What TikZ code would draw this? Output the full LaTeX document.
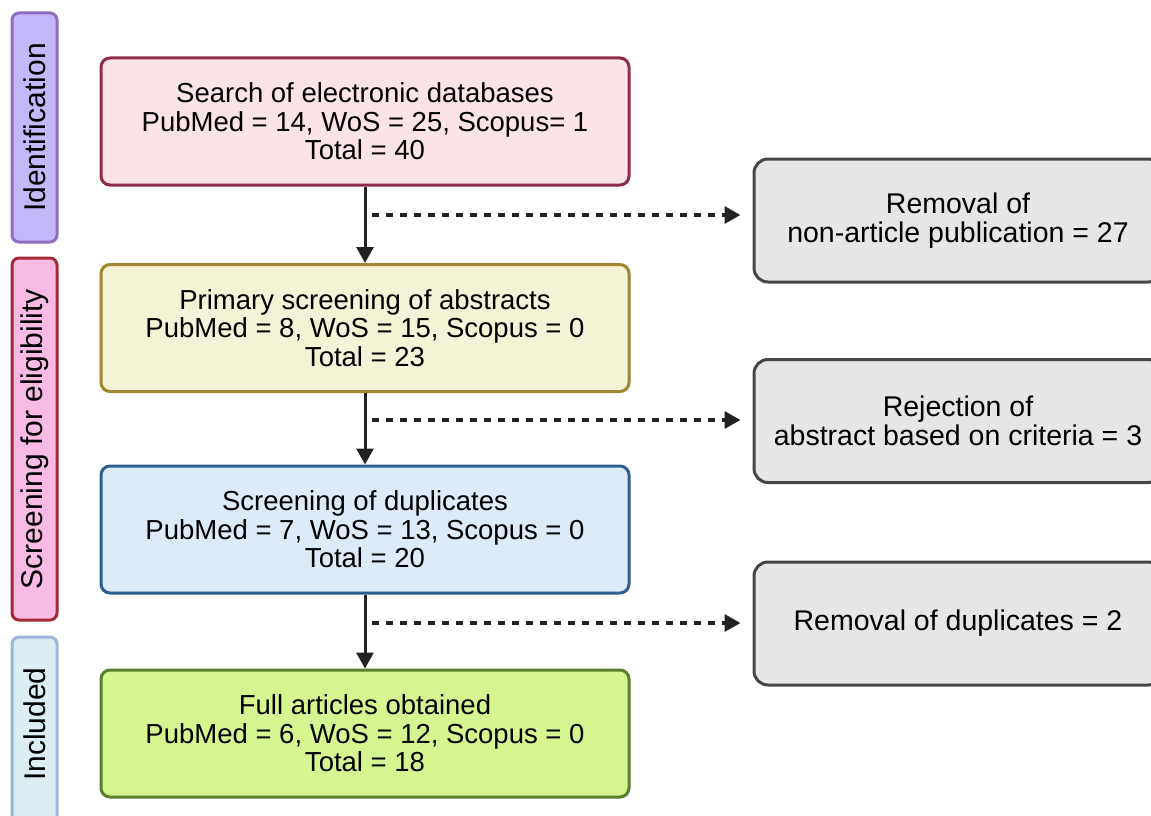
\documentclass[tikz,border=0pt]{standalone}
\usepackage{fontspec}
\setmainfont{Liberation Sans}
\usetikzlibrary{arrows.meta}
\definecolor{idfill}{HTML}{C4B8FB}
\definecolor{iddraw}{HTML}{8E6DC0}
\definecolor{scfill}{HTML}{F9BAE4}
\definecolor{scdraw}{HTML}{A3293A}
\definecolor{infill}{HTML}{DCEEF4}
\definecolor{indraw}{HTML}{9FB4DC}
\definecolor{aFill}{HTML}{FBE3E8}
\definecolor{aDraw}{HTML}{8E2D4A}
\definecolor{bFill}{HTML}{F5F3D5}
\definecolor{bDraw}{HTML}{A08430}
\definecolor{cFill}{HTML}{DDEBF8}
\definecolor{cDraw}{HTML}{2F5F8E}
\definecolor{dFill}{HTML}{D6F590}
\definecolor{dDraw}{HTML}{5A7F2F}
\definecolor{gFill}{HTML}{E6E6E6}
\definecolor{gDraw}{HTML}{464646}
\definecolor{ink}{HTML}{222222}
\tikzset{
  stagebar/.style={draw, line width=3pt, rounded corners=7pt, minimum width=45pt, inner sep=0pt},
  stagetext/.style={rotate=90, font=\fontsize{30}{32}\selectfont},
  mainbox/.style={draw, line width=3pt, rounded corners=9pt, minimum width=528pt, minimum height=127pt, align=center, inner sep=0pt, font=\fontsize{27.5}{28.5}\selectfont},
  sidebox/.style={draw=gDraw, fill=gFill, line width=3pt, rounded corners=14pt, minimum width=408pt, minimum height=123pt, align=center, inner sep=0pt, font=\fontsize{28.5}{28.5}\selectfont},
  solidarrow/.style={draw=ink, line width=3pt, -{Triangle[length=16pt,width=17pt]}},
  dasharrow/.style={draw=ink, line width=3.5pt, dash pattern=on 7pt off 7pt, -{Triangle[length=16pt,width=17pt]}, shorten >=12pt}
}
\begin{document}
\begin{tikzpicture}[x=1pt,y=-1pt]
\clip (0,0) rectangle (1151,816);
\fill[white] (0,0) rectangle (1151,816);
% stage bars
\node[stagebar, fill=idfill, draw=iddraw, minimum height=229pt] (sid) at (34.5,127.5) {};
\node[stagetext] (tid) at (sid.center) {Identification};
\node[stagebar, fill=scfill, draw=scdraw, minimum height=362pt] (ssc) at (34.5,439) {};
\node[stagetext] (tsc) at (ssc.center) {Screening for eligibility};
\node[stagebar, fill=infill, draw=indraw, minimum height=190pt] (sin) at (34.5,732) {};
\node[stagetext] (tin) at (34.5,724) {Included};
% main boxes
\node[mainbox, fill=aFill, draw=aDraw] (b1) at (365,121.5) {Search of electronic databases\\PubMed = 14, WoS = 25, Scopus= 1\\Total = 40};
\node[mainbox, fill=bFill, draw=bDraw] (b2) at (365,328) {Primary screening of abstracts\\PubMed = 8, WoS = 15, Scopus = 0\\Total = 23};
\node[mainbox, fill=cFill, draw=cDraw] (b3) at (365,529.5) {Screening of duplicates\\PubMed = 7, WoS = 13, Scopus = 0\\Total = 20};
\node[mainbox, fill=dFill, draw=dDraw] (b4) at (365,733.5) {Full articles obtained\\PubMed = 6, WoS = 12, Scopus = 0\\Total = 18};
% side boxes
\node[sidebox] (r1) at (958,220.5) {Removal of\\non-article publication = 27};
\node[sidebox] (r2) at (958,421) {Rejection of\\abstract based on criteria = 3};
\node[sidebox] (r3) at (958,623.5) {Removal of duplicates = 2};
% vertical arrows
\draw[solidarrow] (b1) -- (b2);
\draw[solidarrow] (b2) -- (b3);
\draw[solidarrow] (b3) -- (b4);
% dashed arrows
\coordinate (d1) at (372,215);
\coordinate (d2) at (372,420);
\coordinate (d3) at (372,623);
\draw[dasharrow] (d1) -- (d1 -| r1.west);
\draw[dasharrow] (d2) -- (d2 -| r2.west);
\draw[dasharrow] (d3) -- (d3 -| r3.west);
\end{tikzpicture}
\end{document}
